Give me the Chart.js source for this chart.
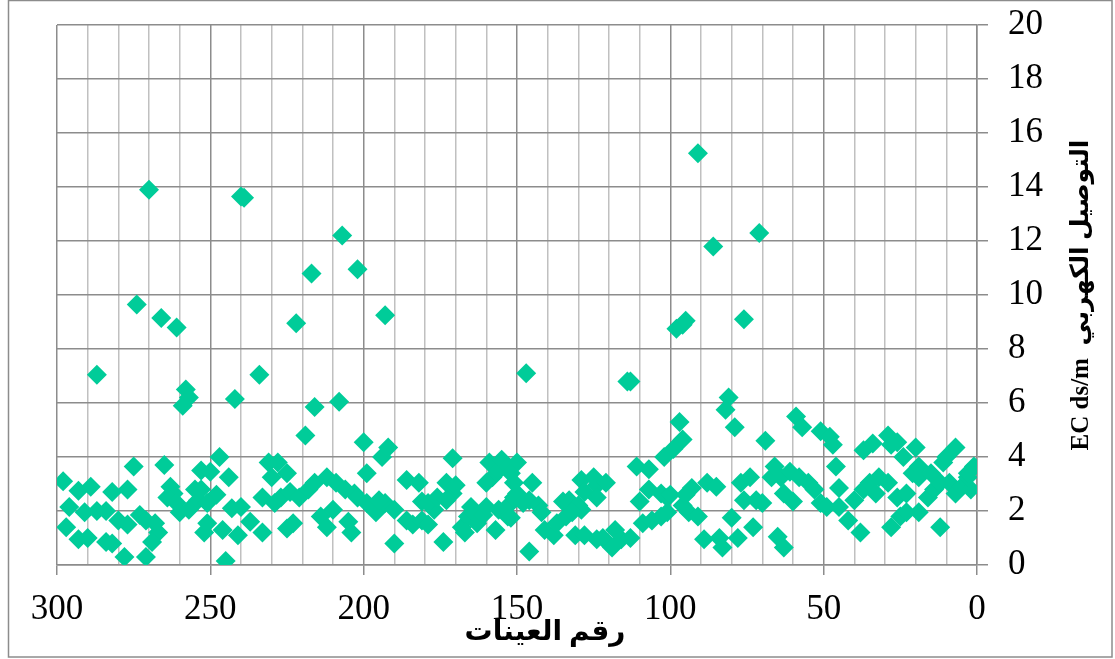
<!DOCTYPE html>
<html>
<head>
<meta charset="utf-8">
<script src="https://cdn.jsdelivr.net/npm/chart.js@4/dist/chart.umd.min.js"></script>
<style>
  body { margin: 0; background: #fff; }
  canvas { display: block; }
</style>
</head>
<body>
<canvas id="ecChart" width="1115" height="659"></canvas>
<script>
// sample number (x) and EC ds/m (y)
let sampleNo = [
  91, 270, 240, 239, 207, 71, 217, 202, 86, 274, 266, 261, 222, 193, 76, 98, 96, 95,
  287, 234, 147, 114, 113, 258, 257, 259, 242, 216, 208, 219, 200,
  298, 293, 289, 296, 297, 293, 290, 291, 287, 284, 282, 277, 275, 265, 280, 277, 273, 271, 268,
  282, 284, 278, 271, 267, 269, 263, 262, 264, 261, 260, 255, 254, 257, 252, 253,
  247, 250, 244, 231, 228, 230, 225, 248, 251, 253, 243, 240, 233, 251, 246, 241, 237, 233, 245,
  229, 227, 224, 221, 218, 216, 212, 209, 206, 203, 225, 223, 214, 212, 210, 205, 204, 199,
  194, 192, 202, 199, 196, 193, 195, 190, 186, 182, 190, 186, 184, 181, 179, 177, 181, 179,
  176, 173, 171, 170, 173, 171, 174, 168, 166, 165, 164, 163, 161, 160, 167, 157, 156, 153,
  152, 159, 158, 160, 156, 155, 153, 151,
  150, 152, 151, 145, 150, 148, 146, 143, 142, 152, 146, 141, 138, 137, 134, 135, 133, 130,
  129, 132, 129, 125, 124, 121, 128, 124, 131, 128, 124, 122, 119, 118, 116, 113, 111, 107,
  110, 107, 103, 101, 109, 106, 103, 101, 102, 99, 96,
  97, 81, 82, 79, 69, 59, 57, 51, 100, 96, 94, 91, 93, 95, 88, 85, 89, 84, 83, 78, 80, 77,
  74, 76, 72, 70, 73, 67, 66, 64, 63, 60, 61, 58, 55, 53, 51, 65, 63,
  48, 47, 46, 45, 49, 45, 42, 38, 40, 37, 35, 33, 29, 37, 34, 29, 26, 28, 32, 28, 25, 23,
  19, 26, 23, 21, 19, 24, 20, 16, 14, 12, 12, 19, 15, 11, 10, 7, 9, 7, 5, 2, 3, 1, 3
];
let ecValues = [
  15.25, 13.9, 13.65, 13.6, 12.2, 12.3, 10.8, 10.95, 11.8, 9.65, 9.15, 8.8, 8.95, 9.25, 9.1, 8.75, 8.9, 9.05,
  7.05, 7.05, 7.1, 6.8, 6.8, 6.5, 6.2, 5.9, 6.15, 5.85, 6.05, 4.8, 4.55,
  3.1, 2.75, 2.9, 2.15, 1.4, 0.95, 1.0, 1.95, 2.0, 2.0, 2.7, 2.8, 3.65, 3.7, 1.65, 1.5, 1.85, 1.65, 1.55,
  0.8, 0.85, 0.3, 0.3, 1.2, 0.85, 2.9, 2.65, 2.5, 2.3, 1.95, 2.8, 2.4, 2.05, 1.2, 3.5,
  4.0, 3.45, 3.25, 3.8, 3.8, 3.25, 3.4, 2.6, 2.3, 2.8, 2.1, 2.15, 2.5, 1.55, 1.3, 1.1, 1.6, 1.2, 0.15,
  2.3, 2.5, 2.7, 2.5, 2.8, 3.05, 3.25, 3.05, 2.8, 2.65, 1.35, 1.55, 1.8, 1.4, 2.05, 1.6, 1.2, 3.4,
  4.0, 4.35, 2.5, 2.3, 1.95, 2.3, 2.4, 0.8, 3.15, 3.05, 2.05, 1.65, 1.5, 1.65, 1.5, 2.05, 2.35, 2.3,
  2.5, 3.05, 2.65, 2.95, 2.4, 3.95, 0.85, 1.4, 1.8, 2.15, 1.95, 1.55, 1.85, 2.15, 1.2, 1.3, 2.05, 1.8,
  2.3, 3.8, 3.25, 3.05, 3.5, 3.9, 3.65, 2.5,
  3.8, 3.4, 3.05, 3.05, 2.65, 2.3, 2.4, 2.2, 1.95, 1.75, 0.5, 1.3, 1.1, 1.55, 1.8, 2.35, 2.4, 2.2,
  2.05, 1.95, 3.15, 3.25, 2.95, 3.05, 2.7, 2.5, 1.1, 1.1, 0.95, 1.0, 0.65, 1.3, 0.95, 1.0, 3.65, 3.55,
  2.35, 2.8, 2.65, 2.5, 1.55, 1.65, 1.8, 1.95, 4.0, 4.3, 4.65,
  5.3, 6.2, 5.75, 5.1, 4.6, 5.5, 5.1, 4.95, 2.6, 2.2, 1.95, 1.8, 2.85, 2.6, 3.05, 2.9, 0.95, 1.0, 0.65, 1.0, 1.75, 3.05,
  3.25, 2.4, 2.4, 2.3, 1.4, 3.25, 3.65, 3.25, 2.65, 2.35, 3.45, 3.25, 3.05, 2.8, 2.3, 1.05, 0.65,
  4.75, 4.45, 3.65, 2.85, 2.15, 2.15, 1.65, 1.2, 2.4, 2.8, 3.05, 2.65, 3.05, 4.25, 4.5, 4.8, 4.55, 4.45, 3.25, 1.4, 1.8, 1.95,
  1.95, 2.5, 2.65, 3.4, 3.65, 4.0, 4.35, 2.5, 2.8, 3.05, 1.4, 3.25, 3.4, 3.8, 4.0, 4.35, 3.05, 2.65, 2.9, 2.8, 3.25, 3.65, 3.4
];
let xTicks = [300, 250, 200, 150, 100, 50, 0];
let yTicks = [0, 2, 4, 6, 8, 10, 12, 14, 16, 18, 20];

let xTitle = 'رقم العينات';
let yTitle = 'EC ds/m  التوصيل الكهربي';

let serif = '"Liberation Serif", "Times New Roman", "DejaVu Sans", serif';

let points = [];
for (let i = 0; i < sampleNo.length; i++) {
  points.push({ x: sampleNo[i], y: ecValues[i] });
}

// outer frame + the two axis titles (y title reads bottom to top)
let frameAndTitles = {
  id: 'frameAndTitles',
  beforeDraw(chart) {
    let ctx = chart.ctx;
    ctx.save();
    ctx.fillStyle = '#ffffff';
    ctx.fillRect(0, 0, chart.width, chart.height);
    ctx.restore();
  },
  afterDraw(chart) {
    let ctx = chart.ctx;
    let a = chart.chartArea;
    ctx.save();
    ctx.strokeStyle = '#8c8c8c';
    ctx.lineWidth = 1.5;
    ctx.strokeRect(8.5, 0.5, 1103.5, 656.5);

    ctx.fillStyle = '#000';
    ctx.textAlign = 'center';
    ctx.textBaseline = 'middle';
    ctx.font = 'bold 28px ' + serif;
    ctx.fillText(xTitle, (a.left + a.right) / 2 + 28, 633);

    ctx.translate(1082, (a.top + a.bottom) / 2);
    ctx.rotate(-Math.PI / 2);
    ctx.font = 'bold 25px ' + serif;
    ctx.fillText(yTitle, 0, 0);
    ctx.restore();
  }
};

new Chart(document.getElementById('ecChart'), {
  type: 'scatter',
  data: {
    datasets: [{
      data: points,
      pointStyle: 'rectRot',
      pointRadius: 10,
      pointHoverRadius: 10,
      backgroundColor: '#00cc99',
      borderColor: '#00cc99',
      borderWidth: 0
    }]
  },
  options: {
    responsive: false,
    animation: false,
    devicePixelRatio: 1,
    layout: { padding: { left: 57, top: 25, right: 0, bottom: 0 } },
    plugins: {
      legend: { display: false },
      tooltip: { enabled: false }
    },
    scales: {
      x: {
        type: 'linear',
        reverse: true,
        min: 0,
        max: 300,
        afterFit(scale) {
          scale.height = 94;
          scale.paddingLeft = 0;
          scale.paddingRight = 0;
        },
        border: { color: '#8c8c8c', width: 1.5 },
        grid: {
          lineWidth: 1.5,
          tickLength: 10,
          color: c => (c.tick && c.tick.value % 50 === 0) ? '#8c8c8c' : '#c0c0c0',
          tickColor: c => (c.tick && c.tick.value % 50 === 0) ? '#8c8c8c' : 'rgba(0,0,0,0)'
        },
        ticks: {
          stepSize: 10,
          autoSkip: false,
          maxRotation: 0,
          padding: 14,
          color: '#000',
          font: { family: serif, size: 35 },
          callback: v => xTicks.includes(v) ? String(v) : ''
        }
      },
      y: {
        position: 'right',
        min: 0,
        max: 20,
        afterFit(scale) {
          scale.width = 138;
          scale.paddingTop = 0;
          scale.paddingBottom = 0;
        },
        border: { color: '#8c8c8c', width: 1.5 },
        grid: {
          lineWidth: 1.5,
          tickLength: 11,
          color: '#8c8c8c',
          tickColor: '#8c8c8c'
        },
        ticks: {
          stepSize: 2,
          padding: 20,
          color: '#000',
          font: { family: serif, size: 35 },
          callback: v => yTicks.includes(v) ? String(v) : ''
        }
      }
    }
  },
  plugins: [frameAndTitles]
});
</script>
</body>
</html>
